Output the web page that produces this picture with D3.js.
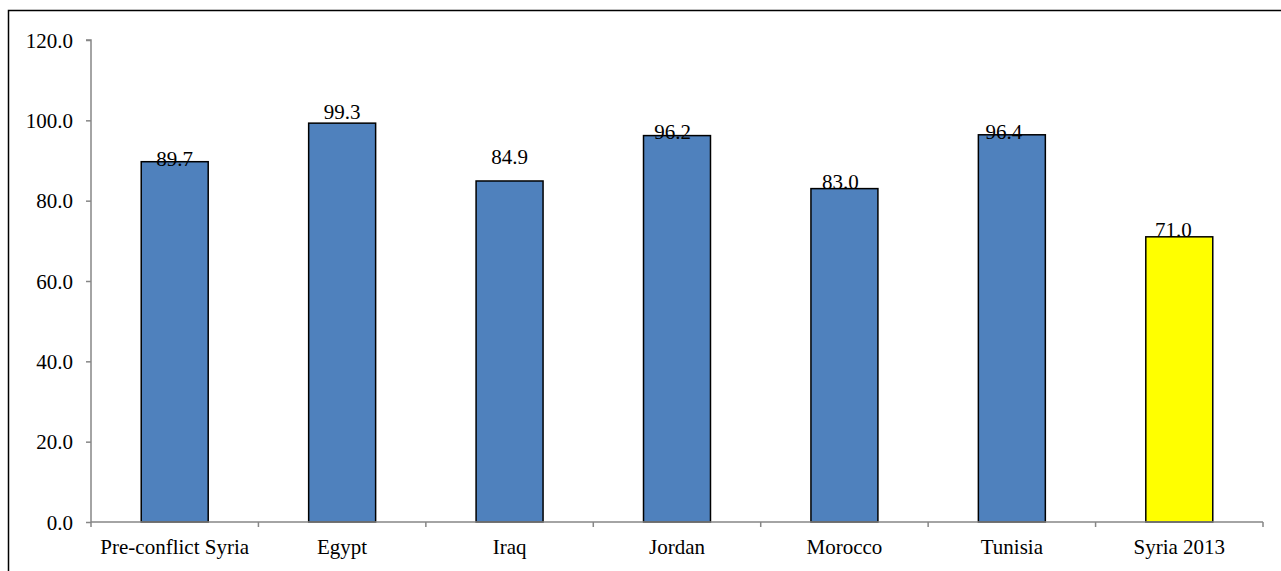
<!DOCTYPE html>
<html><head><meta charset="utf-8">
<script src="https://cdn.jsdelivr.net/npm/d3@7"></script>
<style>body{margin:0;background:#fff;} svg{display:block;} text{font-family:"Liberation Serif","Times New Roman",serif;}</style>
</head><body>
<svg id="c" width="1281" height="571"></svg>
<script>
const categories = ["Pre-conflict Syria","Egypt","Iraq","Jordan","Morocco","Tunisia","Syria 2013"];
const values = [89.7, 99.3, 84.9, 96.2, 83.0, 96.4, 71.0];
const barColors = ["#4F81BD","#4F81BD","#4F81BD","#4F81BD","#4F81BD","#4F81BD","#FFFF00"];
const yTicks = [0,20,40,60,80,100,120];

// manual label placement nudges (as in the original chart), in px
const labelNudge = [[0,4],[0,-4.5],[0,-17],[-4.5,3],[-4,0],[-8,4],[-6,0]];

const svg = d3.select("#c");
svg.append("rect").attr("x",8.5).attr("y",10.5).attr("width",1290).attr("height",600)
  .attr("fill","none").attr("stroke","#000").attr("stroke-width",1.5);

const FS = 21;
const x0 = 91, x1 = 1263, yTop = 40, yBot = 522;
const x = d3.scaleBand().domain(categories).range([x0,x1]).paddingInner(0.6).paddingOuter(0.3);
const xb = d3.scaleBand().domain(categories).range([x0,x1]);
const y = d3.scaleLinear().domain([0,120]).range([yBot,yTop]);

// y axis
const ya = svg.append("g").attr("transform",`translate(${x0},0)`)
  .call(d3.axisLeft(y).tickValues(yTicks).tickFormat(d3.format(".1f")).tickSize(5).tickPadding(13));
ya.attr("font-family",null).attr("font-size",null);
ya.select(".domain").attr("stroke","#868686").attr("stroke-width",1.5).attr("d",`M-5,${yTop}H0V${yBot}`);
ya.selectAll(".tick line").attr("stroke","#868686").attr("stroke-width",1.5);
ya.selectAll(".tick text").attr("font-size",FS).attr("fill","#000").attr("dy","0.34em");

// bars
svg.append("g").selectAll("rect").data(values).join("rect")
  .attr("x",(d,i)=>x(categories[i])).attr("width",x.bandwidth())
  .attr("y",d=>y(d)).attr("height",d=>yBot-y(d))
  .attr("fill",(d,i)=>barColors[i]).attr("stroke","#000").attr("stroke-width",1.5);

// x axis
const xa = svg.append("g").attr("transform",`translate(0,${yBot})`);
xa.append("path").attr("d",`M${x0},0H${x1}`).attr("stroke","#868686").attr("stroke-width",1.5);
const bounds = categories.map(c=>xb(c)).concat([x1]);
xa.selectAll("line").data(bounds).join("line")
  .attr("x1",d=>d).attr("x2",d=>d).attr("y1",0).attr("y2",5)
  .attr("stroke","#868686").attr("stroke-width",1.5);
xa.selectAll("text").data(categories).join("text")
  .attr("x",d=>xb(d)+xb.bandwidth()/2).attr("y",32).attr("text-anchor","middle")
  .attr("font-size",FS).attr("fill","#000").text(d=>d);

// value labels
svg.append("g").selectAll("text").data(values).join("text")
  .attr("x",(d,i)=>x(categories[i])+x.bandwidth()/2+labelNudge[i][0])
  .attr("y",(d,i)=>y(d)+labelNudge[i][1])
  .attr("text-anchor","middle").attr("font-size",FS).attr("fill","#000")
  .text(d=>d3.format(".1f")(d));
</script>
</body></html>
